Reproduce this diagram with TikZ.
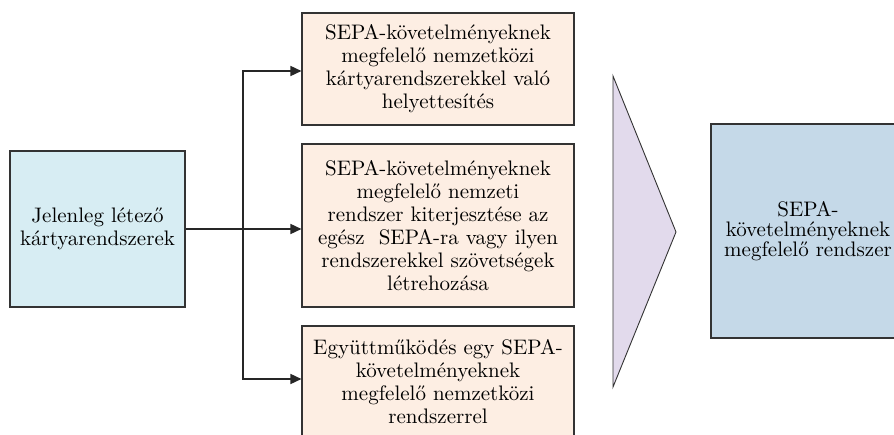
\documentclass[tikz,border=0pt]{standalone}
\usepackage{fontspec}
\setmainfont{lmroman10-regular.otf}
\usetikzlibrary{arrows.meta}
\definecolor{srcfill}{HTML}{D7EDF3}
\definecolor{optfill}{HTML}{FDEEE3}
\definecolor{arrfill}{HTML}{E2DAEC}
\definecolor{tgtfill}{HTML}{C5D9E8}
\definecolor{edge}{HTML}{333333}
\begin{document}
\begin{tikzpicture}[x=1pt, y=1pt,
    box/.style={rectangle, draw=edge, line width=1.1pt, align=center, inner sep=0pt,
      font=\fontsize{21}{23}\selectfont},
    link/.style={line width=1.6pt, draw=black!85, -{Triangle[length=11pt, width=10pt]}}]
    \useasboundingbox (0,0) rectangle (894,434);
    \clip (0,0) rectangle (894,434);
    \node (src) [box, fill=srcfill, minimum width=175, minimum height=156] at (97.5,205)
      {Jelenleg létező\\kártyarendszerek};
    \node (opt1) [box, fill=optfill, minimum width=272, minimum height=112] at (438,365)
      {SEPA-követelményeknek\\megfelelő nemzetközi\\kártyarendszerekkel való\\helyettesítés};
    \node (opt2) [box, fill=optfill, minimum width=272, minimum height=163] at (438,208.5)
      {SEPA-követelményeknek\\megfelelő nemzeti\\rendszer kiterjesztése az\\egész\ \ SEPA-ra vagy ilyen\\rendszerekkel szövetségek\\létrehozása};
    \node (opt3) [box, fill=optfill, minimum width=272, minimum height=112] at (438,52)
      {Együttműködés egy SEPA-\\követelményeknek\\megfelelő nemzetközi\\rendszerrel};
    % big arrow
    \draw[draw=edge, line width=0.9pt, fill=arrfill] (613,358) -- (676,202) -- (613,47) -- cycle;
    \node (tgt) [box, fill=tgtfill, minimum width=194, minimum height=214,
      font=\fontsize{21}{20}\selectfont] at (808,203)
      {SEPA-\\követelményeknek\\megfelelő rendszer};
    \coordinate (split) at (243,205);
    \draw[line width=2.2pt, draw=black!85] (src.east) -- (split);
    \draw[link] (split) |- ([yshift=-2pt]opt1.west);
    \draw[link] (split) -- (opt2.west |- split);
    \draw[link] (split) |- ([yshift=3pt]opt3.west);
\end{tikzpicture}
\end{document}
